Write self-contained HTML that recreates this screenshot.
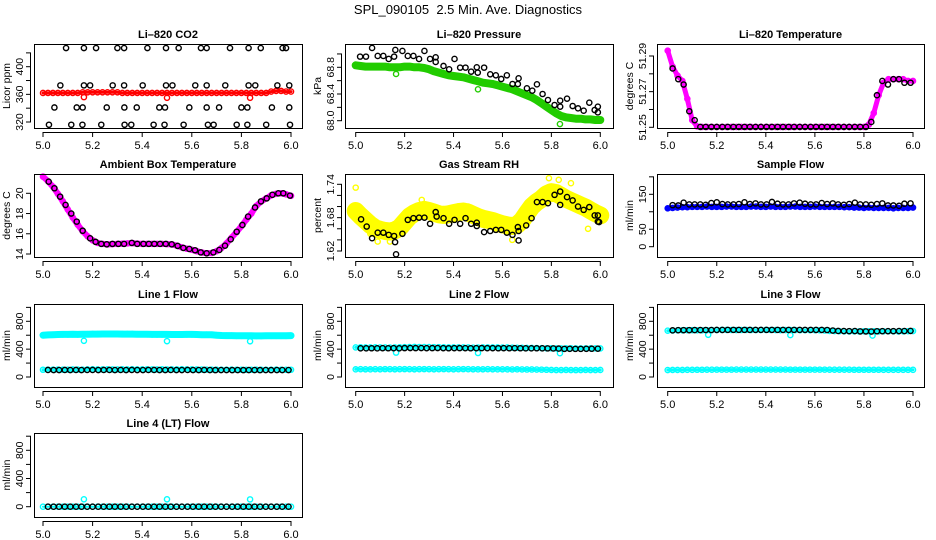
<!DOCTYPE html>
<html><head><meta charset="utf-8"><style>
body{margin:0;background:#fff;}
svg{display:block;font-family:"Liberation Sans",sans-serif;}
</style></head><body>
<svg id="c" width="936" height="540" viewBox="0 0 936 540"></svg>
<script>
const cx=[5.00,5.02,5.04,5.06,5.08,5.10,5.12,5.14,5.16,5.18,5.20,5.22,5.24,5.26,5.28,5.30,5.32,5.34,5.36,5.38,5.40,5.42,5.44,5.46,5.48,5.50,5.52,5.54,5.56,5.58,5.60,5.62,5.64,5.66,5.68,5.70,5.72,5.74,5.76,5.78,5.80,5.82,5.84,5.86,5.88,5.90,5.92,5.94,5.96,5.98,6.00];
const bx=[5.020,5.043,5.065,5.088,5.110,5.133,5.155,5.178,5.200,5.223,5.245,5.268,5.290,5.313,5.335,5.358,5.380,5.403,5.425,5.448,5.470,5.493,5.515,5.538,5.560,5.583,5.605,5.628,5.650,5.673,5.695,5.718,5.740,5.763,5.785,5.808,5.830,5.853,5.875,5.898,5.920,5.943,5.965,5.990];
const ox=[5.165,5.5,5.835];

const co2Red=[362,362,362,362,362,362,362,362,363,363,363,363,363,363,363,363,362,362,362,362,362,362,362,362,362,362,362,362,362,362,362,362,362,362,362,362,362,362,362,362,362,362,362,362,362,362,364,365,365,364,364];
const co2Out=[356,355,355];
const co2BlackX=[5.093,5.165,5.214,5.30,5.327,5.421,5.496,5.547,5.637,5.66,5.754,5.829,5.878,5.966,5.98,5.07,5.165,5.19,5.281,5.327,5.402,5.496,5.522,5.614,5.66,5.735,5.829,5.856,5.945,5.993,5.046,5.136,5.16,5.257,5.328,5.378,5.469,5.492,5.59,5.66,5.71,5.80,5.824,5.923,5.993,5.024,5.114,5.159,5.235,5.329,5.356,5.446,5.49,5.567,5.665,5.688,5.781,5.824,5.9,5.996];
const co2BlackY=[427,427,427,427,427,427,427,427,427,427,427,427,427,427,427,373,373,373,373,373,373,373,373,373,373,373,373,373,373,373,341,341,341,341,341,341,341,341,341,341,341,341,341,341,341,316,316,316,316,316,316,316,316,316,316,316,316,316,316,316];

const presGreen=[68.83,68.82,68.81,68.81,68.81,68.81,68.81,68.80,68.80,68.80,68.81,68.81,68.80,68.80,68.79,68.77,68.74,68.72,68.70,68.68,68.67,68.66,68.65,68.63,68.61,68.59,68.57,68.56,68.55,68.53,68.51,68.49,68.47,68.44,68.41,68.38,68.35,68.31,68.26,68.21,68.16,68.11,68.07,68.05,68.04,68.03,68.03,68.02,68.02,68.01,68.01];
const presOut=[68.70,68.47,67.95];
const presBlackX=[5.018,5.042,5.067,5.09,5.113,5.135,5.157,5.162,5.191,5.213,5.236,5.259,5.281,5.304,5.327,5.327,5.359,5.382,5.404,5.427,5.449,5.472,5.495,5.499,5.525,5.55,5.573,5.595,5.618,5.641,5.663,5.666,5.70,5.722,5.741,5.764,5.786,5.813,5.836,5.836,5.864,5.887,5.909,5.932,5.955,5.977,5.99,5.99];
const presBlackY=[68.96,68.96,69.09,68.97,68.97,68.925,68.96,69.06,69.045,68.97,68.97,68.925,69.045,68.925,68.95,68.88,68.82,68.77,68.925,68.795,68.795,68.735,68.8,68.72,68.795,68.695,68.68,68.625,68.68,68.55,68.55,68.635,68.485,68.45,68.545,68.4,68.31,68.235,68.3,68.21,68.33,68.22,68.185,68.15,68.27,68.16,68.21,68.125];

const tempMag=[51.293,51.284,51.279,51.276,51.266,51.254,51.2505,51.2502,51.2502,51.2502,51.2502,51.2502,51.2502,51.2502,51.2502,51.2502,51.2502,51.2502,51.2502,51.2502,51.2502,51.2502,51.2502,51.2502,51.2502,51.2502,51.2502,51.2502,51.2502,51.2502,51.2502,51.2502,51.2502,51.2502,51.2502,51.2502,51.2502,51.2502,51.2502,51.2502,51.2502,51.2515,51.258,51.268,51.275,51.277,51.277,51.277,51.277,51.276,51.276];
const tempBlack=[51.283,51.277,51.274,51.259,51.254,51.2502,51.2502,51.2502,51.2502,51.2502,51.2502,51.2502,51.2502,51.2502,51.2502,51.2502,51.2502,51.2502,51.2502,51.2502,51.2502,51.2502,51.2502,51.2502,51.2502,51.2502,51.2502,51.2502,51.2502,51.2502,51.2502,51.2502,51.2502,51.2502,51.2502,51.2502,51.253,51.268,51.276,51.274,51.277,51.277,51.275,51.275];

const ambMag=[21.65,21.2,20.65,19.95,19.2,18.4,17.6,16.9,16.25,15.75,15.35,15.1,15.0,14.95,14.98,15.0,15.02,15.05,15.08,15.03,15.0,15.0,15.0,15.0,15.0,14.98,14.95,14.82,14.65,14.52,14.42,14.28,14.15,14.07,14.1,14.28,14.6,15.05,15.6,16.15,16.75,17.4,18.0,18.75,19.2,19.5,19.8,19.95,20.0,19.9,19.75];
const ambBlackX=[5.023,5.046,5.069,5.091,5.114,5.136,5.16,5.19,5.212,5.235,5.257,5.28,5.304,5.327,5.358,5.38,5.405,5.427,5.449,5.472,5.495,5.519,5.543,5.566,5.59,5.613,5.636,5.66,5.687,5.711,5.734,5.757,5.781,5.804,5.827,5.855,5.879,5.902,5.925,5.949,5.969,5.996];
const ambBlackY=[21.15,20.5,19.67,18.85,18.0,17.2,16.3,15.55,15.2,15.0,14.96,15.0,15.0,15.0,15.1,15.0,15.0,15.0,15.0,15.0,15.0,14.96,14.8,14.6,14.5,14.37,14.16,14.07,14.16,14.4,14.82,15.45,16.2,16.87,17.7,18.6,19.2,19.5,19.85,20.0,20.0,19.77];

const rhYellow=[1.692,1.683,1.675,1.667,1.661,1.658,1.656,1.655,1.657,1.662,1.672,1.682,1.688,1.692,1.694,1.692,1.689,1.686,1.685,1.686,1.688,1.690,1.691,1.689,1.685,1.681,1.678,1.676,1.674,1.671,1.668,1.666,1.665,1.667,1.675,1.688,1.700,1.708,1.714,1.722,1.726,1.724,1.719,1.714,1.710,1.706,1.702,1.698,1.693,1.688,1.684];
const rhYelOutX=[5.0,5.09,5.14,5.79,5.83,5.88,5.95,5.64,5.12,5.46,5.27,5.06];
const rhYelOutY=[1.734,1.637,1.637,1.751,1.748,1.742,1.66,1.64,1.666,1.70,1.712,1.651];
const rhBlackX=[5.022,5.045,5.067,5.09,5.113,5.135,5.157,5.161,5.165,5.191,5.213,5.236,5.259,5.281,5.304,5.327,5.331,5.359,5.382,5.404,5.427,5.449,5.472,5.495,5.495,5.525,5.55,5.573,5.595,5.618,5.641,5.663,5.666,5.666,5.697,5.719,5.741,5.764,5.786,5.813,5.836,5.836,5.864,5.887,5.909,5.932,5.955,5.977,5.99,5.99,5.995];
const rhBlackY=[1.677,1.664,1.643,1.653,1.653,1.649,1.647,1.636,1.614,1.651,1.676,1.679,1.68,1.68,1.669,1.69,1.682,1.679,1.669,1.676,1.669,1.679,1.669,1.671,1.665,1.654,1.656,1.658,1.658,1.653,1.649,1.663,1.656,1.639,1.666,1.679,1.708,1.708,1.706,1.721,1.727,1.703,1.717,1.711,1.70,1.694,1.699,1.684,1.684,1.673,1.672];

const sampBlue=[110,111,112,113,113,114,114,114,115,114,114,114,115,115,114,114,114,115,115,114,114,115,114,114,114,115,115,114,114,114,115,114,114,114,114,114,113,113,112,112,111,112,111,111,111,111,110,111,111,111,112];
const sampBlack=[119,118,126,121,121,121,120,125,127,122,121,121,122,127,122,124,121,121,128,123,121,121,124,126,123,121,121,125,122,124,121,120,122,126,121,121,120,122,124,118,118,117,123,124];

const l1Upper=[600,605,608,610,612,612,613,612,614,615,616,616,617,618,618,617,616,616,616,615,614,613,612,612,612,612,611,610,610,612,612,610,608,608,606,600,596,594,594,592,592,592,592,590,590,592,592,592,592,592,594];
const l1Lower=[104,106,105,107,105,106,108,107,106,108,110,109,108,110,109,108,110,109,110,108,109,110,109,108,110,109,108,109,110,108,109,108,107,106,106,105,104,104,105,104,104,103,104,105,104,103,104,105,104,103,104];
const l1Black=[101,100,100,101,100,101,100,101,101,100,101,101,100,101,100,101,100,100,101,101,100,100,101,100,100,101,100,100,101,100,99,100,100,99,100,99,100,100,99,100,99,100,100,100];
const l1Out=[520,515,513];

const l2Upper=[425,426,424,425,426,425,424,423,424,426,428,430,432,431,430,430,428,428,426,425,424,424,425,424,422,423,424,424,425,424,423,424,422,420,419,418,418,416,414,412,412,410,411,412,412,411,410,411,412,411,410];
const l2Lower=[110,112,111,110,112,111,113,112,111,112,113,112,111,112,113,112,111,112,113,112,111,112,113,112,111,110,111,112,111,110,111,110,109,110,109,108,108,107,106,104,102,100,100,101,100,99,100,101,100,100,101];
const l2Black=[412,412,413,412,414,413,414,412,415,416,415,416,414,415,416,414,413,414,415,414,413,414,415,414,414,413,414,413,414,413,412,412,413,412,411,410,408,404,405,404,404,405,406,407];
const l2Out=[350,345,342];

const l3Upper=[665,668,670,671,672,672,671,670,672,674,675,676,676,675,674,675,676,675,674,675,676,675,674,673,674,675,674,673,672,673,672,670,668,662,660,658,656,655,656,655,656,657,656,655,656,657,656,655,656,658,660];
const l3Lower=[100,101,102,102,103,103,104,104,105,105,106,106,106,106,107,107,107,107,107,107,107,107,107,107,107,106,106,106,106,106,106,106,106,105,105,105,105,105,104,104,104,104,104,104,103,103,103,103,103,103,103];
const l3Black=[670,672,673,673,674,674,675,675,676,676,677,677,677,677,677,677,677,677,677,677,676,676,677,677,677,677,676,676,675,667,661,660,659,660,655,655,653,657,658,658,659,660,660,662];
const l3Out=[606,602,595];

const l4Cyan=[0,0,0,0,0,0,0,0,0,0,0,0,0,0,0,0,0,0,0,0,0,0,0,0,0,0,0,0,0,0,0,0,0,0,0,0,0,0,0,0,0,0,0,0,0,0,0,0,0,0,0];
const l4Black=[0,0,0,0,0,0,0,0,0,0,0,0,0,0,0,0,0,0,0,0,0,0,0,0,0,0,0,0,0,0,0,0,0,0,0,0,0,0,0,0,0,0,0,0];
const l4Out=[105,105,104];

const xTickVals=[5.0,5.2,5.4,5.6,5.8,6.0];
const xTickLabels=["5.0","5.2","5.4","5.6","5.8","6.0"];

const NS="http://www.w3.org/2000/svg";
const svg=document.getElementById('c');
function mk(tag,attrs,parent){const e=document.createElementNS(NS,tag);for(const k in attrs)e.setAttribute(k,attrs[k]);(parent||svg).appendChild(e);return e;}

const cols=[{l:34,r:302,x5:43,x6:291},{l:345,r:613,x5:355.7,x6:600.3},{l:657,r:924,x5:667.7,x6:913}];
const rows=[{t:44,b:128},{t:174,b:257},{t:304,b:387},{t:433,b:517}];

const mt=mk('text',{x:468,y:14,'text-anchor':'middle','font-size':13});
mt.textContent="SPL_090105\u00a0 2.5 Min. Ave. Diagnostics";



function panel(p){
  const c=cols[p.col],r=rows[p.row];
  const g=mk('g',{});
  
  
  const X=v=>c.x5+(v-5)*(c.x6-c.x5);
  const Y=v=>p.yp[0]+(v-p.yv[0])*(p.yp[1]-p.yp[0])/(p.yv[1]-p.yv[0]);
  const inner=mk('g',{},g);
  
  
  (p.bands||[]).forEach(b=>{
    const pts=b.x.map((xv,i)=>X(xv).toFixed(1)+','+Y(b.y[i]).toFixed(1)).join(' ');
    const pl=mk('polyline',{points:pts,fill:'none',stroke:b.color,'stroke-width':b.w,'stroke-linejoin':'round','stroke-linecap':'round'},inner);
    
    
    b.x.forEach((xv,i)=>{
      const ci=mk('circle',{cx:X(xv),cy:Y(b.y[i]),r:2.6,fill:'none',stroke:b.color,'stroke-width':1.4},inner);
      
      
    });
  });
  (p.pts||[]).forEach(s=>{
    s.x.forEach((xv,i)=>{
      const ci=mk('circle',{cx:X(xv),cy:Y(s.y[i]),r:2.6,fill:'none',stroke:s.color,'stroke-width':1.4},inner);
      
      
    });
  });
  const box=mk('rect',{x:c.l+0.5,y:r.t+0.5,width:c.r-c.l,height:r.b-r.t,fill:'none',stroke:'#000','stroke-width':1},g);
  
  
  const ti=mk('text',{x:(c.l+c.r)/2,y:r.t-6,'text-anchor':'middle','font-size':11,'font-weight':'bold'},g);
  ti.textContent=p.title;
  
  
  const xa=mk('g',{},g);
  
  
  mk('line',{x1:X(5),x2:X(6),y1:r.b+4.5,y2:r.b+4.5,stroke:'#000'},xa);
  xTickVals.forEach((v,i)=>{
    mk('line',{x1:X(v),x2:X(v),y1:r.b+4,y2:r.b+9,stroke:'#000'},xa);
    const t=mk('text',{x:X(v),y:r.b+21,'text-anchor':'middle','font-size':11},xa);
    t.textContent=xTickLabels[i];
    
    
  });
  const ya=mk('g',{},g);
  
  
  mk('line',{x1:c.l-3.5,x2:c.l-3.5,y1:Y(p.ticks[0]),y2:Y(p.ticks[p.ticks.length-1]),stroke:'#000'},ya);
  p.ticks.forEach(v=>{mk('line',{x1:c.l-8,x2:c.l-3,y1:Y(v),y2:Y(v),stroke:'#000'},ya);});
  p.labels.forEach((lab,i)=>{
    const yy=Y(p.labelVals[i]);
    const t=mk('text',{x:0,y:0,'text-anchor':'middle','font-size':10.5,transform:`translate(${c.l-11},${yy}) rotate(-90)`},ya);
    t.textContent=lab;
    
    
  });
  const yl=mk('text',{x:0,y:0,'text-anchor':'middle','font-size':10.5,transform:`translate(${c.l-24},${(r.t+r.b)/2}) rotate(-90)`},g);
  yl.textContent=p.ylab;
  
  
}
const flowTicks=[0,200,400,600,800,1000];
panel({name:'co2-panel',title:'Li\u2013820 CO2',ylab:'Licor ppm',col:0,row:0,yv:[400,320],yp:[66.7,122],ticks:[320,340,360,380,400,420],labels:['320','360','400'],labelVals:[320,360,400],
  bands:[{x:cx,y:co2Red,color:'#ff0000',w:3}],pts:[{x:ox,y:co2Out,color:'#ff0000'},{x:co2BlackX,y:co2BlackY,color:'#000'}]});
panel({name:'pressure-panel',title:'Li\u2013820 Pressure',ylab:'kPa',col:1,row:0,yv:[68.8,68.0],yp:[67.3,120.7],ticks:[68.0,68.2,68.4,68.6,68.8,69.0],labels:['68.0','68.4','68.8'],labelVals:[68.0,68.4,68.8],
  bands:[{x:cx,y:presGreen,color:'#22cc00',w:8}],pts:[{x:ox,y:presOut,color:'#22cc00'},{x:presBlackX,y:presBlackY,color:'#000'}]});
panel({name:'temperature-panel',title:'Li\u2013820 Temperature',ylab:'degrees C',col:2,row:0,yv:[51.29,51.25],yp:[56,127.3],ticks:[51.25,51.26,51.27,51.28,51.29],labels:['51.25','51.27','51.29'],labelVals:[51.25,51.27,51.29],
  bands:[{x:cx,y:tempMag,color:'#ff00ff',w:5}],pts:[{x:bx,y:tempBlack,color:'#000'}]});
panel({name:'ambient-panel',title:'Ambient Box Temperature',ylab:'degrees C',col:0,row:1,yv:[20,14],yp:[193.3,254],ticks:[14,16,18,20],labels:['14','16','18','20'],labelVals:[14,16,18,20],
  bands:[{x:cx,y:ambMag,color:'#ff00ff',w:6}],pts:[{x:ambBlackX,y:ambBlackY,color:'#000'}]});
panel({name:'rh-panel',title:'Gas Stream RH',ylab:'percent',col:1,row:1,yv:[1.74,1.62],yp:[184.3,251],ticks:[1.62,1.64,1.66,1.68,1.70,1.72,1.74],labels:['1.62','1.68','1.74'],labelVals:[1.62,1.68,1.74],
  bands:[{x:cx,y:rhYellow,color:'#ffff00',w:18}],pts:[{x:rhYelOutX,y:rhYelOutY,color:'#ffff00'},{x:rhBlackX,y:rhBlackY,color:'#000'}]});
panel({name:'sample-flow-panel',title:'Sample Flow',ylab:'ml/min',col:2,row:1,yv:[150,0],yp:[194.3,246.7],ticks:[0,50,100,150,200],labels:['0','50','150'],labelVals:[0,50,150],
  bands:[{x:cx,y:sampBlue,color:'#0000ff',w:5}],pts:[{x:bx,y:sampBlack,color:'#000'}]});
panel({name:'line1-panel',title:'Line 1 Flow',ylab:'ml/min',col:0,row:2,yv:[800,0],yp:[321.3,377],ticks:flowTicks,labels:['0','400','800'],labelVals:[0,400,800],
  bands:[{x:cx,y:l1Upper,color:'#00ffff',w:7},{x:cx,y:l1Lower,color:'#00ffff',w:3}],pts:[{x:ox,y:l1Out,color:'#00ffff'},{x:bx,y:l1Black,color:'#000'}]});
panel({name:'line2-panel',title:'Line 2 Flow',ylab:'ml/min',col:1,row:2,yv:[800,0],yp:[321.3,377],ticks:flowTicks,labels:['0','400','800'],labelVals:[0,400,800],
  bands:[{x:cx,y:l2Upper,color:'#00ffff',w:3},{x:cx,y:l2Lower,color:'#00ffff',w:3}],pts:[{x:ox,y:l2Out,color:'#00ffff'},{x:bx,y:l2Black,color:'#000'}]});
panel({name:'line3-panel',title:'Line 3 Flow',ylab:'ml/min',col:2,row:2,yv:[800,0],yp:[321.3,377],ticks:flowTicks,labels:['0','400','800'],labelVals:[0,400,800],
  bands:[{x:cx,y:l3Upper,color:'#00ffff',w:3},{x:cx,y:l3Lower,color:'#00ffff',w:3}],pts:[{x:ox,y:l3Out,color:'#00ffff'},{x:bx,y:l3Black,color:'#000'}]});
panel({name:'line4-panel',title:'Line 4 (LT) Flow',ylab:'ml/min',col:0,row:3,yv:[800,0],yp:[450.3,506.7],ticks:flowTicks,labels:['0','400','800'],labelVals:[0,400,800],
  bands:[{x:cx,y:l4Cyan,color:'#00ffff',w:2}],pts:[{x:ox,y:l4Out,color:'#00ffff'},{x:bx,y:l4Black,color:'#000'}]});
</script>
</body></html>
